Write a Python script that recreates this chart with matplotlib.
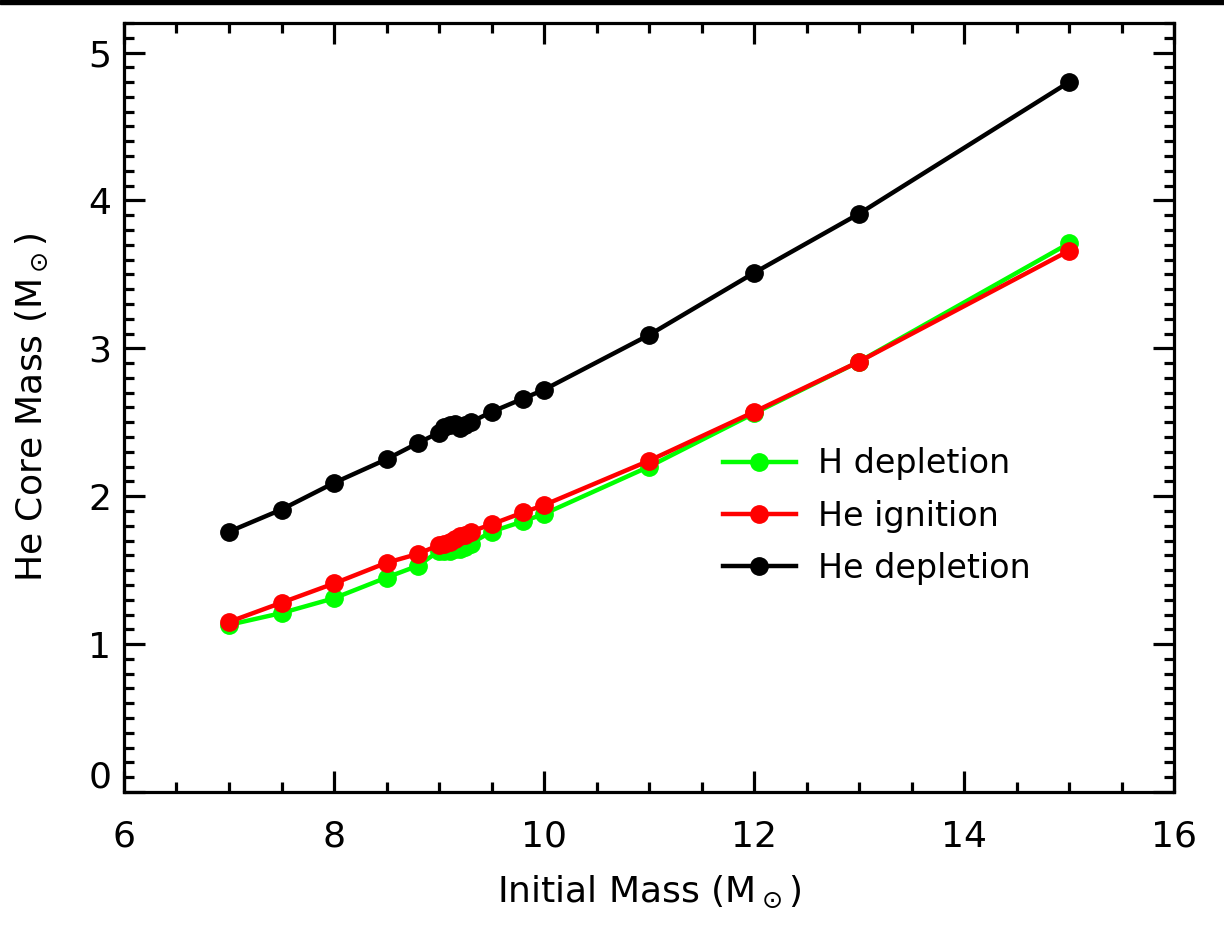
import numpy as np
import matplotlib
matplotlib.use('Agg')
from matplotlib import pyplot as plt
from matplotlib.ticker import MultipleLocator, FuncFormatter
from matplotlib.patches import Rectangle

plt.rcParams['font.family'] = ['DejaVu Sans']
plt.rcParams['mathtext.fontset'] = 'dejavusans'

# initial masses (Msun)
mass = [7.0, 7.5, 8.0, 8.5, 8.8, 9.0, 9.05, 9.1, 9.15, 9.2, 9.25, 9.3, 9.5, 9.8, 10.0, 11.0, 12.0, 13.0, 15.0]

# He core mass at each stage
h_depletion = [1.13, 1.21, 1.31, 1.45, 1.53, 1.63, 1.63, 1.63, 1.64, 1.64, 1.655, 1.68, 1.76, 1.83, 1.88, 2.20, 2.56, 2.91, 3.71]
he_ignition = [1.15, 1.28, 1.41, 1.55, 1.61, 1.67, 1.68, 1.69, 1.71, 1.73, 1.74, 1.76, 1.81, 1.89, 1.94, 2.24, 2.57, 2.91, 3.66]
he_depletion = [1.76, 1.91, 2.09, 2.25, 2.36, 2.43, 2.47, 2.48, 2.49, 2.46, 2.48, 2.50, 2.57, 2.66, 2.72, 3.09, 3.51, 3.91, 4.80]

fig = plt.figure(figsize=(12.24, 9.3), dpi=100)
ax = fig.add_axes([0.1013, 0.1484, 0.8579, 0.8269])

kw = dict(lw=3.2, marker='o', ms=12.5)
ax.plot(mass, h_depletion, color='#00ff00', label='H depletion', **kw)
ax.plot(mass, he_ignition, color='#ff0000', label='He ignition', **kw)
ax.plot(mass, he_depletion, color='black', label='He depletion', **kw)

ax.set_xlim(6, 16)
ax.set_ylim(0, 5.2)
ax.xaxis.set_major_locator(MultipleLocator(2))
ax.xaxis.set_minor_locator(MultipleLocator(0.5))
ax.yaxis.set_major_locator(MultipleLocator(1))
ax.yaxis.set_minor_locator(MultipleLocator(0.1))
# the "0" is drawn separately, slightly above its tick as in the original
ax.yaxis.set_major_formatter(FuncFormatter(lambda v, p: '' if abs(v) < 1e-9 else '%d' % v))

for s in ax.spines.values():
    s.set_linewidth(2.3)
ax.tick_params(which='both', direction='in', top=True, right=True, width=2.3)
ax.tick_params(which='major', length=15, labelsize=26)
ax.tick_params(which='minor', length=7.5)
ax.tick_params(axis='x', which='major', pad=20)
ax.tick_params(axis='y', which='major', pad=9)

ax.annotate('0', xy=(0, 0), xycoords='axes fraction', xytext=(-9, -2),
            textcoords='offset points', ha='right', va='bottom', fontsize=26)

ax.set_xlabel(r'Initial Mass (M$_\odot$)', fontsize=26, labelpad=14)
ax.set_ylabel(r'He Core Mass (M$_\odot$)', fontsize=26, labelpad=28)

leg = ax.legend(loc='upper left', bbox_to_anchor=(0.57, 0.448), frameon=False,
                fontsize=24, handlelength=2.2, handletextpad=0.65,
                labelspacing=0.58, borderpad=0, borderaxespad=0)

# strip at top edge of the image
fig.patches.append(Rectangle((0, 1 - 4 / 930), 1, 4 / 930, transform=fig.transFigure,
                             color='black', zorder=10))

fig.savefig('out.png', dpi=100)
